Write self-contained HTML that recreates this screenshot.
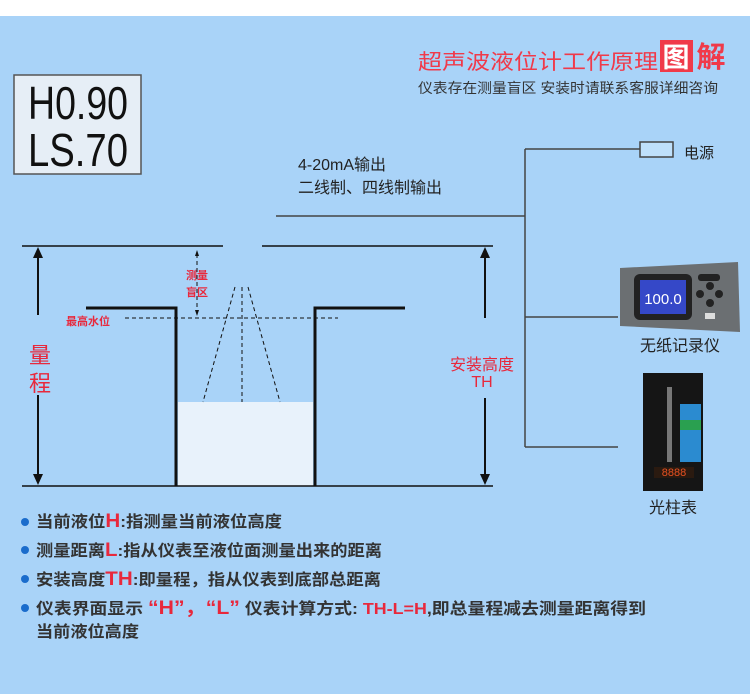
<!DOCTYPE html>
<html><head><meta charset="utf-8"><style>
body{margin:0;width:750px;height:694px;overflow:hidden;background:#fff}
svg{display:block}
text{font-family:"Liberation Sans","Noto Sans CJK SC",sans-serif}
</style></head><body>
<svg width="750" height="694" viewBox="0 0 750 694">
<rect x="0" y="16" width="750" height="678" fill="#a9d3f8"/>
<!-- LCD -->
<rect x="14" y="75" width="127" height="99" fill="#e6eef6" stroke="#555" stroke-width="1.5"/>
<text x="78" y="119" font-family="Liberation Mono,monospace" font-size="46" fill="#111" text-anchor="middle" textLength="100" lengthAdjust="spacingAndGlyphs">H0.90</text>
<text x="78" y="166" font-family="Liberation Mono,monospace" font-size="46" fill="#111" text-anchor="middle" textLength="100" lengthAdjust="spacingAndGlyphs">LS.70</text>
<!-- title -->
<text x="418" y="69" font-size="21" fill="#f03a4a" textLength="240" lengthAdjust="spacingAndGlyphs">超声波液位计工作原理</text>
<rect x="660" y="40" width="33" height="32" fill="#f03a4a"/>
<text x="676" y="67" font-size="27" font-weight="bold" fill="#fff" text-anchor="middle">图</text>
<text x="711" y="67" font-size="29" font-weight="bold" fill="#f03a4a" text-anchor="middle">解</text>
<text x="418" y="93" font-size="14" fill="#333" textLength="300" lengthAdjust="spacingAndGlyphs">仪表存在测量盲区 安装时请联系客服详细咨询</text>
<!-- wiring -->
<g stroke="#444" stroke-width="1.5" fill="none">
<path d="M525 149V447M525 149H640M276 216H525M525 317H618M525 447H618"/>
<rect x="640" y="142" width="33" height="15" fill="#bfe0fb"/>
</g>
<text x="684" y="158" font-size="15" fill="#222">电源</text>
<text x="298" y="170" font-size="16" fill="#222">4-20mA输出</text>
<text x="298" y="193" font-size="16" fill="#222">二线制、四线制输出</text>
<!-- recorder -->
<polygon points="620,268 738,262 740,332 620,326" fill="#6b6f72"/>
<rect x="634" y="274" width="58" height="46" rx="6" fill="#222"/>
<rect x="640" y="280" width="46" height="34" fill="#3548c8"/>
<text x="663" y="304" font-family="Liberation Serif,serif" font-size="15" fill="#fff" text-anchor="middle">100.0</text>
<rect x="698" y="274" width="22" height="7" rx="3" fill="#222"/>
<circle cx="710" cy="286" r="4" fill="#222"/><circle cx="700" cy="294" r="4" fill="#222"/><circle cx="719" cy="294" r="4" fill="#222"/><circle cx="710" cy="303" r="4" fill="#222"/>
<rect x="705" y="313" width="10" height="6" fill="#ddd"/>
<text x="680" y="351" font-size="16" fill="#222" text-anchor="middle">无纸记录仪</text>
<!-- bar meter -->
<rect x="643" y="373" width="60" height="118" fill="#151515"/>
<rect x="667" y="387" width="5" height="75" fill="#777"/>
<rect x="680" y="404" width="21" height="16" fill="#2b8bd0"/>
<rect x="680" y="420" width="21" height="10" fill="#2aa050"/>
<rect x="680" y="430" width="21" height="32" fill="#2b8bd0"/>
<rect x="654" y="467" width="40" height="11" fill="#2a1a10"/>
<text x="674" y="476" font-family="Liberation Mono,monospace" font-size="11" fill="#e85020" text-anchor="middle">8888</text>
<text x="673" y="513" font-size="16" fill="#222" text-anchor="middle">光柱表</text>
<!-- tank -->
<rect x="178" y="402" width="135" height="84" fill="#e8f2fb"/>
<g stroke="#111" fill="none">
<path d="M22 246H223M262 246H493M22 486H493" stroke-width="1.5"/>
<path d="M86 308H176V486M405 308H315V486" stroke-width="3"/>
<path d="M38 250V315M38 395V482M485 250V318M485 398V482" stroke-width="2"/>
<path d="M125 318H338M235 287L203 402M242 287V402M248 287L280 402M197 254V312" stroke-dasharray="4,3" stroke-width="1"/>
</g>
<g fill="#111">
<polygon points="38,247 33,258 43,258"/><polygon points="38,485 33,474 43,474"/>
<polygon points="485,247 480,258 490,258"/><polygon points="485,485 480,474 490,474"/>
<polygon points="197,250 195,256 199,256"/><polygon points="197,316 195,310 199,310"/>
</g>
<text x="40" y="363" font-size="22" fill="#e8283c" text-anchor="middle">量</text>
<text x="40" y="391" font-size="22" fill="#e8283c" text-anchor="middle">程</text>
<text x="482" y="370" font-size="16" fill="#e8283c" text-anchor="middle">安装高度</text>
<text x="482" y="387" font-size="16" fill="#e8283c" text-anchor="middle">TH</text>
<text x="197" y="279" font-size="11" font-weight="bold" fill="#e8283c" text-anchor="middle">测量</text>
<text x="197" y="296" font-size="11" font-weight="bold" fill="#e8283c" text-anchor="middle">盲区</text>
<text x="66" y="325" font-size="11" font-weight="bold" fill="#e8283c">最高水位</text>
<!-- bullets -->
<g fill="#1a6ccc"><circle cx="25" cy="522" r="4"/><circle cx="25" cy="550" r="4"/><circle cx="25" cy="579" r="4"/><circle cx="25" cy="608" r="4"/></g>
<g font-size="16" font-weight="bold" fill="#333">
<text x="36" y="527" textLength="246" lengthAdjust="spacingAndGlyphs">当前液位<tspan fill="#e8283c" font-size="19">H</tspan>:指测量当前液位高度</text>
<text x="36" y="556" textLength="346" lengthAdjust="spacingAndGlyphs">测量距离<tspan fill="#e8283c" font-size="19">L</tspan>:指从仪表至液位面测量出来的距离</text>
<text x="36" y="585" textLength="345" lengthAdjust="spacingAndGlyphs">安装高度<tspan fill="#e8283c" font-size="19">TH</tspan>:即量程，指从仪表到底部总距离</text>
<text x="36" y="614" textLength="610" lengthAdjust="spacingAndGlyphs">仪表界面显示 <tspan fill="#e8283c" font-size="19">“H”，“L”</tspan> 仪表计算方式: <tspan fill="#e8283c">TH-L=H</tspan>,即总量程减去测量距离得到</text>
<text x="36" y="637" textLength="103" lengthAdjust="spacingAndGlyphs">当前液位高度</text>
</g>
</svg>
</body></html>
